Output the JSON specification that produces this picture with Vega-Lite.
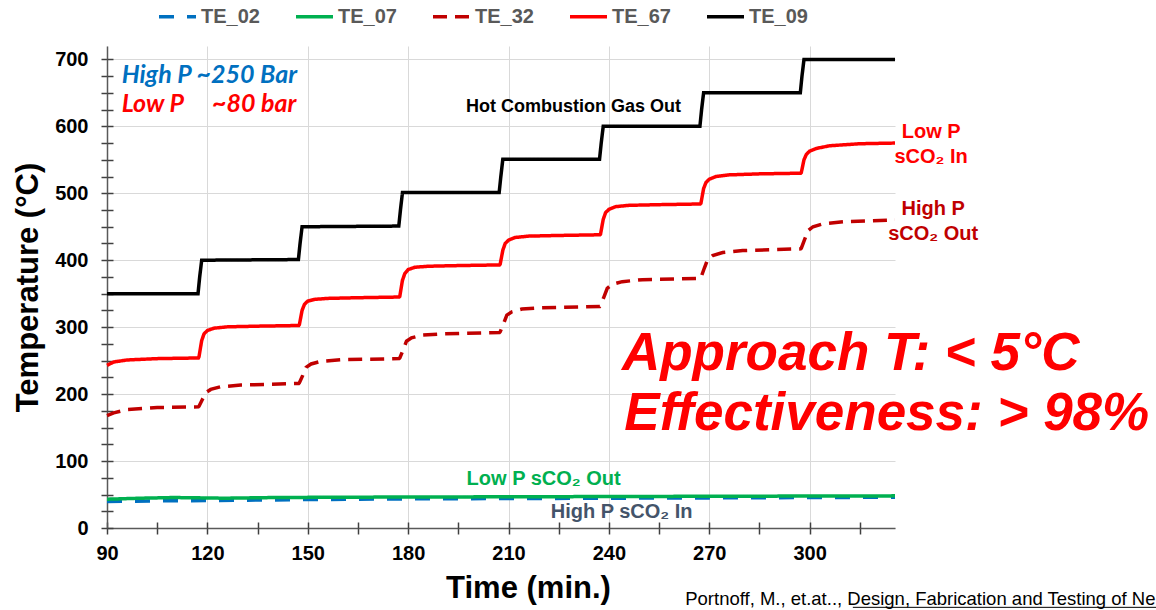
{
  "$schema": "https://vega.github.io/schema/vega-lite/v6.json",
  "width": 788,
  "height": 482,
  "autosize": {"type": "none"},
  "padding": {"left": 107, "top": 46, "right": 261, "bottom": 82},
  "background": "white",
  "config": {
    "view": {"stroke": null},
    "font": "Liberation Sans"
  },
  "resolve": {"axis": {"x": "independent", "y": "independent"}},
  "layer": [
    {
      "data": {"values": [
        {"s":"TE_02","t":90,"v":39.5},{"s":"TE_02","t":105,"v":40.5},{"s":"TE_02","t":120,"v":41},{"s":"TE_02","t":150,"v":42.5},{"s":"TE_02","t":180,"v":43.5},{"s":"TE_02","t":210,"v":44},{"s":"TE_02","t":240,"v":44.5},{"s":"TE_02","t":270,"v":45},{"s":"TE_02","t":300,"v":45.5},{"s":"TE_02","t":325.5,"v":46},
        {"s":"TE_07","t":90,"v":43},{"s":"TE_07","t":100,"v":44.5},{"s":"TE_07","t":110,"v":45.5},{"s":"TE_07","t":118,"v":45},{"s":"TE_07","t":125,"v":44.5},{"s":"TE_07","t":140,"v":45.5},{"s":"TE_07","t":160,"v":46},{"s":"TE_07","t":200,"v":46.5},{"s":"TE_07","t":240,"v":47},{"s":"TE_07","t":280,"v":47.5},{"s":"TE_07","t":325.5,"v":48},
        {"s":"TE_32","t":90,"v":168},{"s":"TE_32","t":92,"v":172},{"s":"TE_32","t":96,"v":177},{"s":"TE_32","t":105,"v":180},{"s":"TE_32","t":117.3,"v":181},
        {"s":"TE_32","t":117.5,"v":182},{"s":"TE_32","t":118.5,"v":192},{"s":"TE_32","t":119.5,"v":202},{"s":"TE_32","t":121,"v":207},{"s":"TE_32","t":124,"v":211},{"s":"TE_32","t":130,"v":213.5},{"s":"TE_32","t":147.3,"v":216},
        {"s":"TE_32","t":147.5,"v":217},{"s":"TE_32","t":148.5,"v":228},{"s":"TE_32","t":149.5,"v":240},{"s":"TE_32","t":151,"v":245},{"s":"TE_32","t":154,"v":249},{"s":"TE_32","t":160,"v":251.5},{"s":"TE_32","t":177.3,"v":253},
        {"s":"TE_32","t":177.5,"v":254},{"s":"TE_32","t":178.5,"v":266},{"s":"TE_32","t":179.5,"v":279},{"s":"TE_32","t":181,"v":284},{"s":"TE_32","t":184,"v":288},{"s":"TE_32","t":190,"v":290},{"s":"TE_32","t":207.3,"v":292},
        {"s":"TE_32","t":207.5,"v":293},{"s":"TE_32","t":208.5,"v":305},{"s":"TE_32","t":209.5,"v":318},{"s":"TE_32","t":211,"v":323},{"s":"TE_32","t":214,"v":327},{"s":"TE_32","t":220,"v":329},{"s":"TE_32","t":237.3,"v":331},
        {"s":"TE_32","t":237.5,"v":332},{"s":"TE_32","t":238.5,"v":345},{"s":"TE_32","t":239.5,"v":358},{"s":"TE_32","t":241,"v":364},{"s":"TE_32","t":244,"v":368},{"s":"TE_32","t":250,"v":371},{"s":"TE_32","t":267.3,"v":373},
        {"s":"TE_32","t":267.5,"v":374},{"s":"TE_32","t":268.5,"v":388},{"s":"TE_32","t":269.5,"v":401},{"s":"TE_32","t":271,"v":407},{"s":"TE_32","t":274,"v":411.5},{"s":"TE_32","t":280,"v":414.5},{"s":"TE_32","t":297.3,"v":417},
        {"s":"TE_32","t":297.5,"v":418},{"s":"TE_32","t":298.5,"v":431},{"s":"TE_32","t":299.5,"v":444},{"s":"TE_32","t":301,"v":450},{"s":"TE_32","t":304,"v":454.5},{"s":"TE_32","t":310,"v":457.5},{"s":"TE_32","t":325.5,"v":460},
        {"s":"TE_67","t":90,"v":243},{"s":"TE_67","t":92,"v":248},{"s":"TE_67","t":96,"v":251},{"s":"TE_67","t":105,"v":253},{"s":"TE_67","t":117.3,"v":254},
        {"s":"TE_67","t":117.5,"v":256},{"s":"TE_67","t":118.3,"v":280},{"s":"TE_67","t":119,"v":290},{"s":"TE_67","t":120,"v":295},{"s":"TE_67","t":122,"v":298.5},{"s":"TE_67","t":126,"v":300.5},{"s":"TE_67","t":135,"v":301.5},{"s":"TE_67","t":147.3,"v":302.5},
        {"s":"TE_67","t":147.5,"v":304},{"s":"TE_67","t":148.3,"v":325},{"s":"TE_67","t":149,"v":334},{"s":"TE_67","t":150,"v":339},{"s":"TE_67","t":152,"v":341.5},{"s":"TE_67","t":156,"v":343},{"s":"TE_67","t":165,"v":344},{"s":"TE_67","t":177.3,"v":345},
        {"s":"TE_67","t":177.5,"v":346},{"s":"TE_67","t":178.3,"v":370},{"s":"TE_67","t":179,"v":380},{"s":"TE_67","t":180,"v":386},{"s":"TE_67","t":182,"v":389.5},{"s":"TE_67","t":186,"v":391},{"s":"TE_67","t":195,"v":392},{"s":"TE_67","t":207.3,"v":393},
        {"s":"TE_67","t":207.5,"v":394},{"s":"TE_67","t":208.3,"v":415},{"s":"TE_67","t":209,"v":425},{"s":"TE_67","t":210,"v":430},{"s":"TE_67","t":212,"v":434},{"s":"TE_67","t":216,"v":436},{"s":"TE_67","t":225,"v":437},{"s":"TE_67","t":237.3,"v":438},
        {"s":"TE_67","t":237.5,"v":439},{"s":"TE_67","t":238.3,"v":461},{"s":"TE_67","t":239,"v":471},{"s":"TE_67","t":240,"v":476},{"s":"TE_67","t":242,"v":480},{"s":"TE_67","t":246,"v":482},{"s":"TE_67","t":255,"v":483},{"s":"TE_67","t":267.3,"v":484},
        {"s":"TE_67","t":267.5,"v":485},{"s":"TE_67","t":268.3,"v":507},{"s":"TE_67","t":269,"v":516},{"s":"TE_67","t":270,"v":521},{"s":"TE_67","t":272,"v":525},{"s":"TE_67","t":276,"v":527.5},{"s":"TE_67","t":285,"v":529},{"s":"TE_67","t":297.3,"v":530},
        {"s":"TE_67","t":297.5,"v":531},{"s":"TE_67","t":298.3,"v":550},{"s":"TE_67","t":299,"v":558},{"s":"TE_67","t":300,"v":563},{"s":"TE_67","t":302,"v":567},{"s":"TE_67","t":306,"v":571},{"s":"TE_67","t":315,"v":574},{"s":"TE_67","t":325.5,"v":575},
        {"s":"TE_09","t":90,"v":350},{"s":"TE_09","t":117.2,"v":350},{"s":"TE_09","t":117.7,"v":375},{"s":"TE_09","t":118.3,"v":400},
        {"s":"TE_09","t":147.2,"v":401},{"s":"TE_09","t":147.7,"v":425},{"s":"TE_09","t":148.3,"v":450},
        {"s":"TE_09","t":177.2,"v":451},{"s":"TE_09","t":177.7,"v":475},{"s":"TE_09","t":178.3,"v":501},
        {"s":"TE_09","t":207.2,"v":501},{"s":"TE_09","t":207.7,"v":525},{"s":"TE_09","t":208.3,"v":551},
        {"s":"TE_09","t":237.2,"v":551},{"s":"TE_09","t":237.7,"v":575},{"s":"TE_09","t":238.3,"v":600},
        {"s":"TE_09","t":267.2,"v":600},{"s":"TE_09","t":267.7,"v":625},{"s":"TE_09","t":268.3,"v":650},
        {"s":"TE_09","t":297.2,"v":650},{"s":"TE_09","t":297.7,"v":675},{"s":"TE_09","t":298.3,"v":700},
        {"s":"TE_09","t":325.5,"v":700}
      ]},
      "mark": {"type": "line", "strokeWidth": 3.5},
      "encoding": {
        "x": {"field": "t", "type": "quantitative",
          "scale": {"domain": [90, 325.5], "nice": false, "zero": false},
          "axis": {"orient": "bottom", "values": [90,105,120,135,150,165,180,195,210,225,240,255,270,285,300,315], "title": "Time (min.)",
            "labelExpr": "datum.value % 30 === 0 ? datum.label : ''",
            "grid": true, "gridColor": "#D9D9D9", "gridWidth": 1,
            "gridOpacity": {"condition": {"test": "datum.value % 30 === 0", "value": 1}, "value": 0},
            "domainColor": "#595959", "domainWidth": 1.5, "ticks": true, "tickSize": 6, "tickColor": "#404040", "tickWidth": 1.5, "labelFlush": false,
            "labelFont": "Liberation Sans", "labelFontWeight": "bold", "labelFontSize": 20, "labelColor": "#000000", "labelPadding": 9,
            "titleFont": "Liberation Sans", "titleFontWeight": "bold", "titleFontSize": 31, "titleColor": "#000000", "titlePadding": 10, "titleX": 421}},
        "y": {"field": "v", "type": "quantitative",
          "scale": {"domain": [0, 720], "nice": false, "zero": true},
          "axis": {"orient": "left", "values": [0,25,50,75,100,125,150,175,200,225,250,275,300,325,350,375,400,425,450,475,500,525,550,575,600,625,650,675,700], "title": "Temperature (°C)",
            "labelExpr": "datum.value % 100 === 0 ? datum.label : ''",
            "grid": true, "gridColor": "#D9D9D9", "gridWidth": 1,
            "gridOpacity": {"condition": {"test": "datum.value % 100 === 0", "value": 1}, "value": 0},
            "domainColor": "#595959", "domainWidth": 1.5, "ticks": true, "tickSize": 6, "tickColor": "#404040", "tickWidth": 1.5, "labelFlush": false,
            "labelFont": "Liberation Sans", "labelFontWeight": "bold", "labelFontSize": 20, "labelColor": "#000000", "labelPadding": 13,
            "titleFont": "Liberation Sans", "titleFontWeight": "bold", "titleFontSize": 31, "titleColor": "#000000", "titlePadding": 10}},
        "color": {"field": "s", "type": "nominal",
          "scale": {"domain": ["TE_02","TE_07","TE_32","TE_67","TE_09"], "range": ["#0070C0","#00B050","#C00000","#FF0000","#000000"]},
          "legend": {"orient": "none", "legendX": 50, "legendY": -50, "direction": "horizontal", "title": null,
            "symbolType": "stroke", "symbolSize": 1369, "symbolStrokeWidth": 3.5, "padding": 0,
            "labelFont": "Liberation Sans", "labelFontWeight": "bold", "labelFontSize": 20, "labelColor": "#595959",
            "labelOffset": 3, "columnPadding": 29}},
        "strokeDash": {"field": "s", "type": "nominal",
          "scale": {"domain": ["TE_02","TE_07","TE_32","TE_67","TE_09"], "range": [[15,13],[1,0],[14,8],[1,0],[1,0]]},
          "legend": {"orient": "none", "legendX": 50, "legendY": -50, "direction": "horizontal", "title": null,
            "symbolType": "stroke", "symbolSize": 1369, "symbolStrokeWidth": 3.5, "padding": 0,
            "labelFont": "Liberation Sans", "labelFontWeight": "bold", "labelFontSize": 20, "labelColor": "#595959",
            "labelOffset": 3, "columnPadding": 29}}
      }
    },
    {
      "data": {"values": [{"x": 197.3, "y": 621.9, "label": "Hot Combustion Gas Out"}]},
      "mark": {"type": "text", "align": "left", "baseline": "alphabetic", "font": "Liberation Sans", "fontWeight": "bold", "fontSize": 18, "color": "#000000"},
      "encoding": {
        "x": {"field": "x", "type": "quantitative", "scale": {"domain": [90, 325.5], "nice": false, "zero": false},
          "axis": {"orient": "bottom", "values": [90,105,120,135,150,165,180,195,210,225,240,255,270,285,300,315], "title": null,
            "labels": false, "domain": false, "grid": false, "ticks": true, "tickSize": -6, "tickColor": "#404040", "tickWidth": 1.5}},
        "y": {"field": "y", "type": "quantitative", "scale": {"domain": [0, 720], "nice": false, "zero": true},
          "axis": {"orient": "left", "values": [0,25,50,75,100,125,150,175,200,225,250,275,300,325,350,375,400,425,450,475,500,525,550,575,600,625,650,675,700], "title": null,
            "labels": false, "domain": false, "grid": false, "ticks": true, "tickSize": -6, "tickColor": "#404040", "tickWidth": 1.5}},
        "text": {"field": "label"}
      }
    },
    {
      "data": {"values": [{"x": 94.4, "y": 664.3, "label": "High P ~250 Bar", "c": "#0070C0"}, {"x": 94.4, "y": 621.9, "label": "Low P", "c": "#FF0000"}, {"x": 121.4, "y": 621.9, "label": "~80 bar", "c": "#FF0000"}]},
      "mark": {"type": "text", "align": "left", "baseline": "alphabetic", "font": "Lato", "fontWeight": "bold", "fontStyle": "italic", "fontSize": 25},
      "encoding": {
        "x": {"field": "x", "type": "quantitative", "scale": {"domain": [90, 325.5], "nice": false, "zero": false}, "axis": null},
        "y": {"field": "y", "type": "quantitative", "scale": {"domain": [0, 720], "nice": false, "zero": true}, "axis": null},
        "text": {"field": "label"},
        "color": {"field": "c", "type": "nominal", "scale": null, "legend": null}
      }
    },
    {
      "data": {"values": [
        {"x": 336.3, "y": 582.6, "label": "Low P", "c": "#FF0000"},
        {"x": 336.3, "y": 545.3, "label": "sCO₂ In", "c": "#FF0000"},
        {"x": 336.9, "y": 467.6, "label": "High P", "c": "#C00000"},
        {"x": 336.9, "y": 430.2, "label": "sCO₂ Out", "c": "#C00000"},
        {"x": 220.5, "y": 64.2, "label": "Low P sCO₂ Out", "c": "#00B050"},
        {"x": 243.8, "y": 14.5, "label": "High P sCO₂ In", "c": "#44546A"}
      ]},
      "mark": {"type": "text", "align": "center", "baseline": "alphabetic", "font": "Liberation Sans", "fontWeight": "bold", "fontSize": 20},
      "encoding": {
        "x": {"field": "x", "type": "quantitative", "scale": {"domain": [90, 325.5], "nice": false, "zero": false}, "axis": null},
        "y": {"field": "y", "type": "quantitative", "scale": {"domain": [0, 720], "nice": false, "zero": true}, "axis": null},
        "text": {"field": "label"},
        "color": {"field": "c", "type": "nominal", "scale": null, "legend": null}
      }
    },
    {
      "data": {"values": [
        {"x": 243.9, "y": 236, "label": "Approach T: < 5°C"},
        {"x": 244.6, "y": 146.4, "label": "Effectiveness: > 98%"}
      ]},
      "mark": {"type": "text", "align": "left", "baseline": "alphabetic", "font": "Liberation Sans", "fontWeight": "bold", "fontStyle": "italic", "fontSize": 53, "color": "#FF0000"},
      "encoding": {
        "x": {"field": "x", "type": "quantitative", "scale": {"domain": [90, 325.5], "nice": false, "zero": false}, "axis": null},
        "y": {"field": "y", "type": "quantitative", "scale": {"domain": [0, 720], "nice": false, "zero": true}, "axis": null},
        "text": {"field": "label"}
      }
    },
    {
      "data": {"values": [{"x": 262.8, "y": -115, "label": "Portnoff, M., et.at.., Design, Fabrication and Testing of Ne"}]},
      "mark": {"type": "text", "align": "left", "baseline": "alphabetic", "font": "Liberation Sans", "fontSize": 18.5, "color": "#000000"},
      "encoding": {
        "x": {"field": "x", "type": "quantitative", "scale": {"domain": [90, 325.5], "nice": false, "zero": false}, "axis": null},
        "y": {"field": "y", "type": "quantitative", "scale": {"domain": [0, 720], "nice": false, "zero": true}, "axis": null},
        "text": {"field": "label"}
      }
    },
    {
      "data": {"values": [{"x": 312.9, "x2": 420, "y": -118.5}]},
      "mark": {"type": "rule", "color": "#000000", "strokeWidth": 1},
      "encoding": {
        "x": {"field": "x", "type": "quantitative", "scale": {"domain": [90, 325.5], "nice": false, "zero": false}, "axis": null},
        "x2": {"field": "x2"},
        "y": {"field": "y", "type": "quantitative", "scale": {"domain": [0, 720], "nice": false, "zero": true}, "axis": null}
      }
    }
  ]
}
